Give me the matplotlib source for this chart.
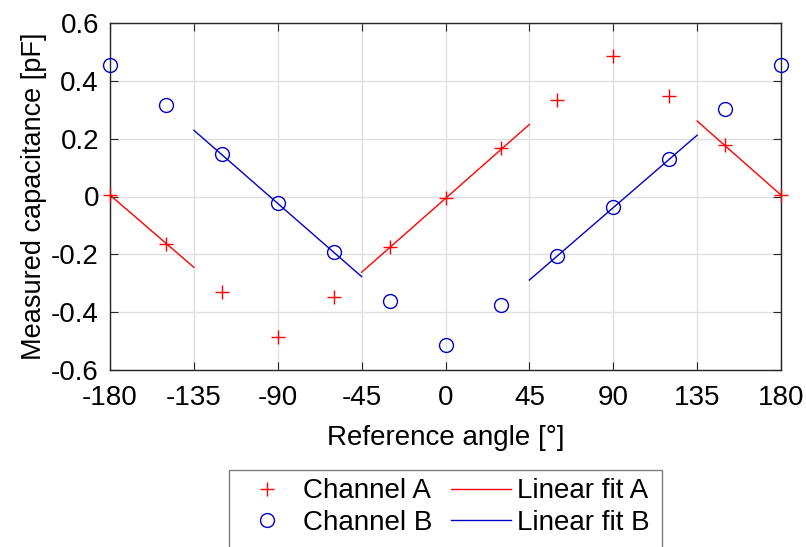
import numpy as np
import matplotlib.pyplot as plt
from matplotlib.patches import Rectangle

plt.rcParams['font.family'] = ['Liberation Sans', 'DejaVu Sans']

# reference angles (deg)
angles = [-180, -150, -120, -90, -60, -30, 0, 30, 60, 90, 120, 150, 180]
# measured capacitance (pF)
chan_a = [0.005, -0.163, -0.330, -0.485, -0.347, -0.173, -0.005, 0.166,
          0.335, 0.486, 0.348, 0.177, 0.005]
chan_b = [0.454, 0.315, 0.146, -0.022, -0.193, -0.361, -0.514, -0.375,
          -0.205, -0.037, 0.131, 0.301, 0.454]

# linear fit segments, NaN separates pieces
fit_a_x = [-180, -135, np.nan, -45, 45, np.nan, 135, 180]
fit_a_y = [0.005, -0.245, np.nan, -0.262, 0.249, np.nan, 0.261, 0.005]
fit_b_x = [-135, -45, np.nan, 45, 135]
fit_b_y = [0.229, -0.277, np.nan, -0.289, 0.212]

xticks = [-180, -135, -90, -45, 0, 45, 90, 135, 180]
yticks = [-0.6, -0.4, -0.2, 0, 0.2, 0.4, 0.6]
ytick_labels = ['-0.6', '-0.4', '-0.2', '0', '0.2', '0.4', '0.6']

fig = plt.figure(figsize=(8.06, 5.47), dpi=100)
ax = fig.add_axes([110/806, 1-370/547, 671/806, 347/547])

red = '#ff0000'
blue = '#0000cc'
ha, = ax.plot(angles, chan_a, '+', color=red, ms=10, mew=1.0, ls='none', label='Channel A', clip_on=False, zorder=3)
fa, = ax.plot(fit_a_x, fit_a_y, '-', color=red, lw=1.0, label='Linear fit A')
hb, = ax.plot(angles, chan_b, 'o', color=blue, ms=10, mfc='none', mew=1.0, ls='none', label='Channel B', clip_on=False, zorder=3)
fb, = ax.plot(fit_b_x, fit_b_y, '-', color=blue, lw=1.0, label='Linear fit B')

ax.set_xlim(-180, 180)
ax.set_ylim(-0.6, 0.6)
ax.set_xticks(xticks)
ax.set_xticklabels([str(t) for t in xticks], fontsize=20)
ax.set_yticks(yticks)
ax.set_yticklabels(ytick_labels, fontsize=20)
ax.grid(True, color='#e0e0e0', lw=1.0)
ax.set_axisbelow(True)
ax.tick_params(direction='in', length=5.5, top=True, right=True, color='#262626')
ax.tick_params(axis='x', pad=11)
ax.tick_params(axis='y', pad=8)
for s in ax.spines.values():
    s.set_color('#262626')
    s.set_linewidth(1.0)

ax.set_xlabel('Reference angle [°]', fontsize=20, va='center')
ax.xaxis.set_label_coords(0.5, (369 - 437) / 347)
ax.set_ylabel('Measured capacitance [pF]', fontsize=19.5, va='center')
ax.yaxis.set_label_coords((34 - 110) / 671, 0.5)

# legend box runs off the bottom edge of the figure, like the original
leg = fig.legend([ha, hb, fa, fb], ['Channel A', 'Channel B', 'Linear fit A', 'Linear fit B'],
                 ncol=2, loc='upper left', bbox_to_anchor=(229/806, 1-470/547),
                 borderaxespad=0, fontsize=20, frameon=False,
                 handlelength=2.15, handletextpad=0.2,
                 columnspacing=0.7, labelspacing=0.2, borderpad=0.3)
fig.patches.append(Rectangle((229/806, -0.05), (662-229)/806, 0.05 + 1-470/547,
                             transform=fig.transFigure, fill=False,
                             edgecolor='#7f7f7f', lw=1.0))

fig.savefig('out.png', dpi=100)
